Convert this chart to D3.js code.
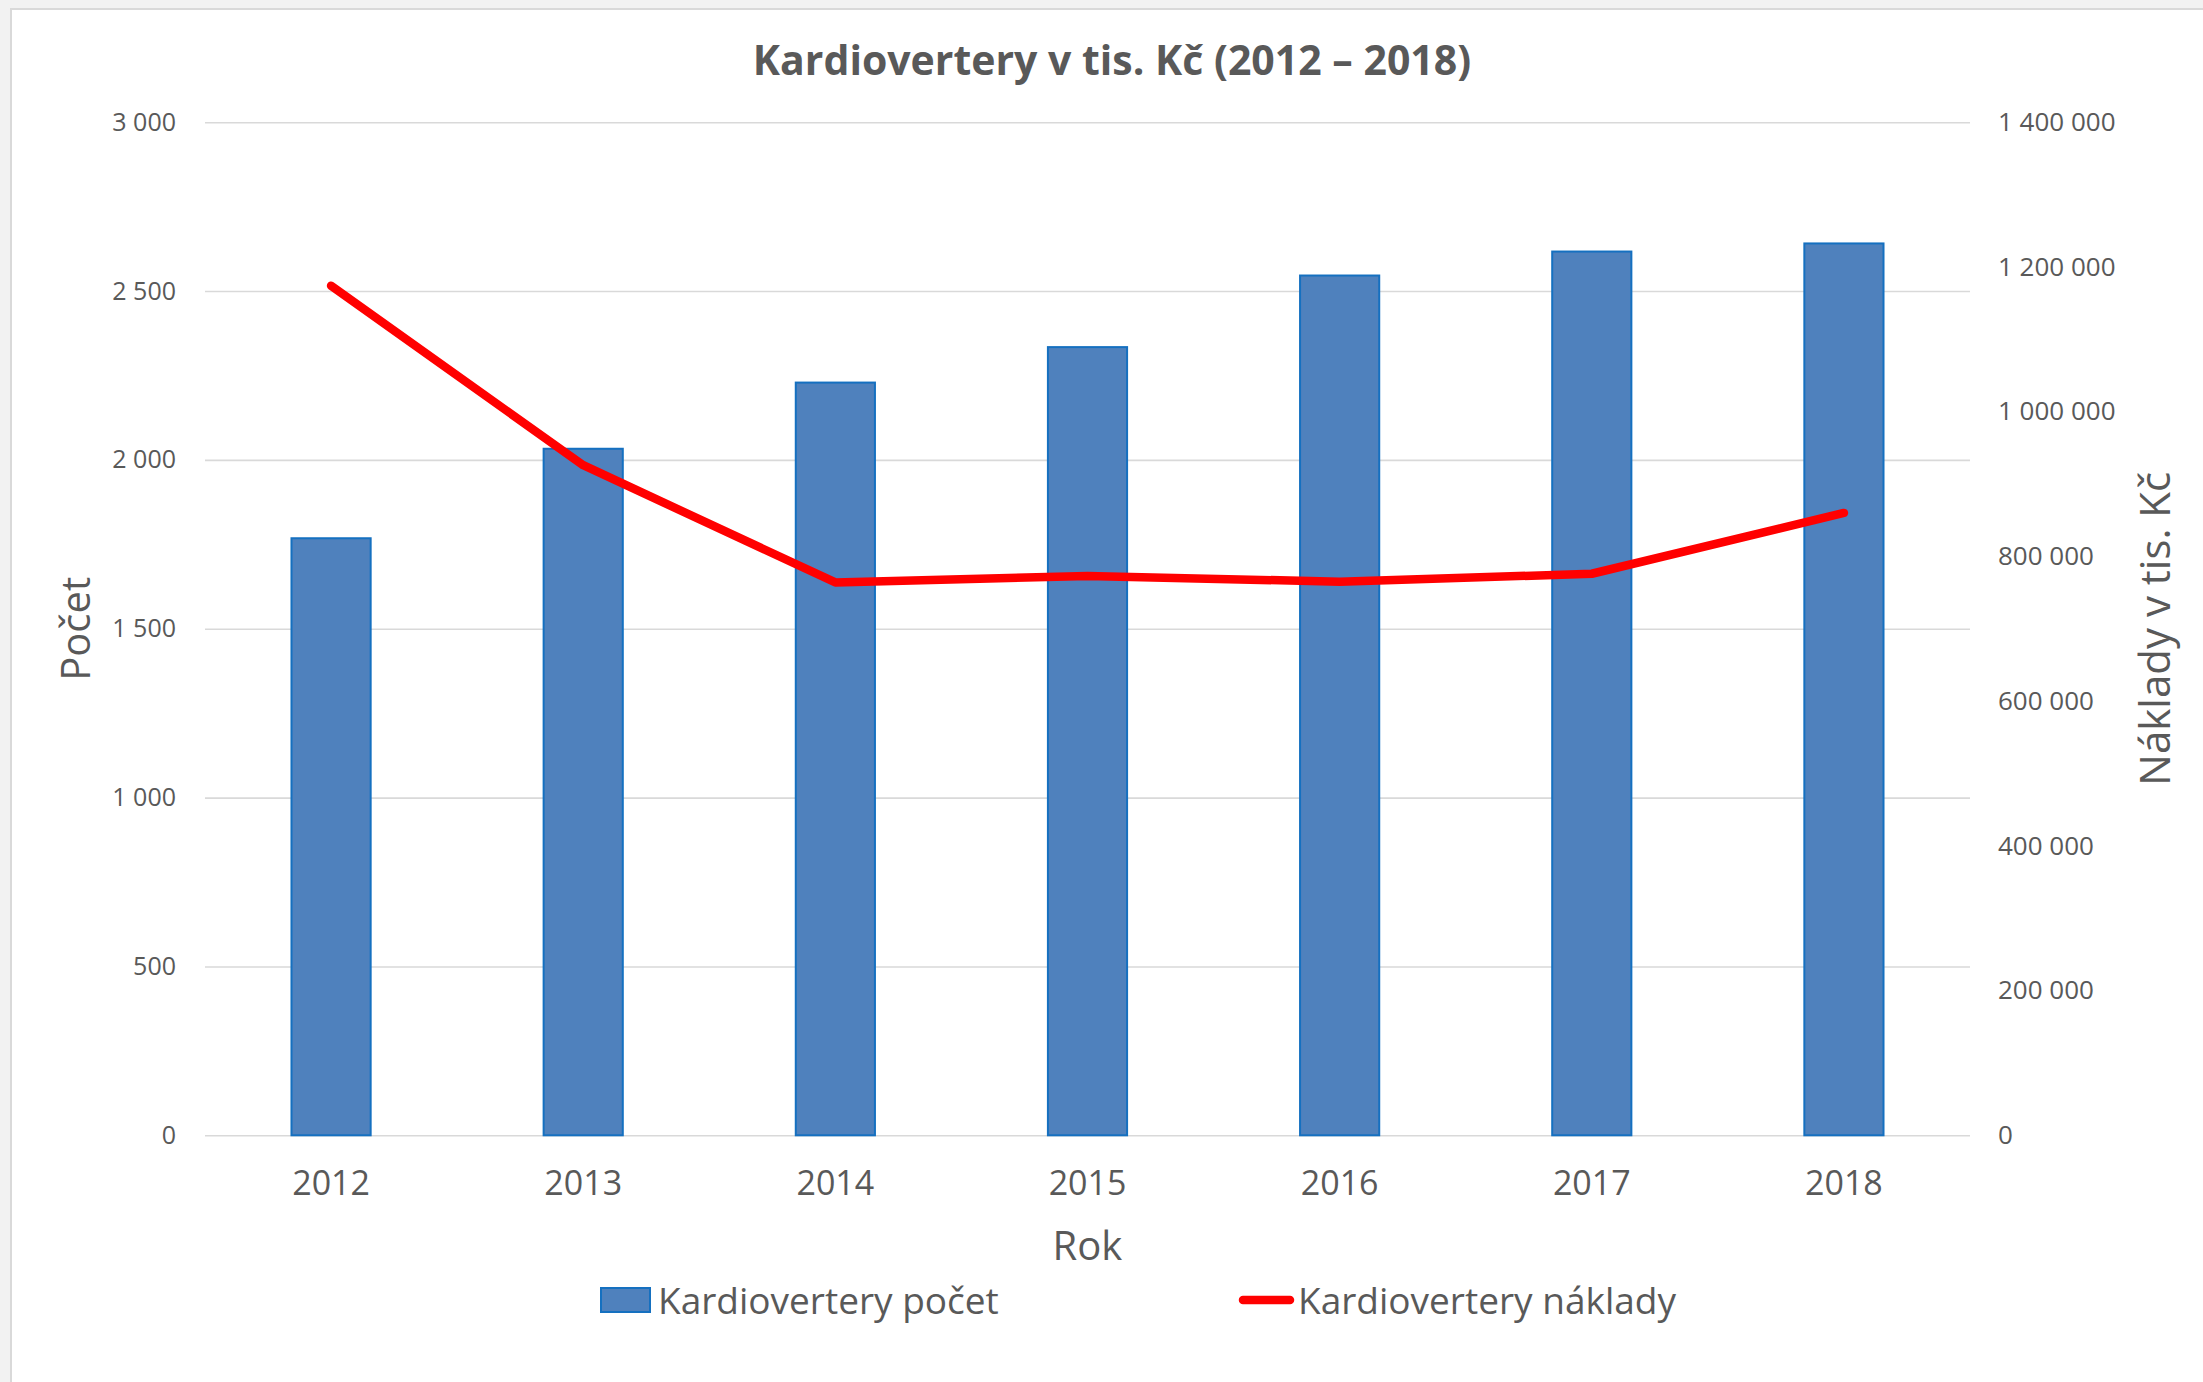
<!DOCTYPE html>
<html><head><meta charset="utf-8">
<script src="https://cdn.jsdelivr.net/npm/d3@7"></script>
<style>
html,body{margin:0;padding:0;background:#f2f2f2;}
svg{display:block;}
text{font-family:"Open Sans",sans-serif;fill:#595959;}
</style></head>
<body>
<script>
const years = ["2012","2013","2014","2015","2016","2017","2018"];
const pocet = [1768, 2033, 2229, 2334, 2546, 2617, 2641];
const naklady = [1174000, 926000, 764000, 773000, 765000, 776000, 860000];
const leftTicks = [0, 500, 1000, 1500, 2000, 2500, 3000];
const rightTicks = [0, 200000, 400000, 600000, 800000, 1000000, 1200000, 1400000];
const titleText = "Kardiovertery v tis. Kč (2012 – 2018)";
const leftTitle = "Počet";
const rightTitle = "Náklady v tis. Kč";
const xTitle = "Rok";
const seriesNames = ["Kardiovertery počet", "Kardiovertery náklady"];

const W = 2203, H = 1382;
const plot = {left: 205, right: 1970, top: 122.2, bottom: 1135.3};
const fmt = d3.formatLocale({thousands: " ", grouping: [3], decimal: ",", currency: ["", ""]}).format(",d");

const svg = d3.select("body").append("svg").attr("width", W).attr("height", H);

// chart area
svg.append("rect").attr("x", 11).attr("y", 9).attr("width", W).attr("height", H)
  .attr("fill", "#ffffff").attr("stroke", "#d9d9d9").attr("stroke-width", 2);

const x = d3.scaleBand().domain(years).range([plot.left, plot.right])
  .paddingInner(0.686).paddingOuter(0.343);
const yL = d3.scaleLinear().domain([0, 3000]).range([plot.bottom, plot.top]);
const yR = d3.scaleLinear().domain([0, 1400000]).range([plot.bottom, plot.top]);

// gridlines
const grid = svg.append("g")
  .attr("transform", `translate(${plot.left},0)`)
  .call(d3.axisLeft(yL).tickValues(leftTicks).tickSize(-(plot.right - plot.left)).tickFormat(""));
grid.select(".domain").remove();
grid.selectAll("line").attr("stroke", "#d9d9d9").attr("stroke-width", 1.6);

// left axis labels
const gL = svg.append("g").attr("transform", `translate(176,0)`)
  .call(d3.axisLeft(yL).tickValues(leftTicks).tickSize(0).tickPadding(0).tickFormat(fmt));
gL.select(".domain").remove();
gL.selectAll("text").attr("font-size", 25).attr("font-family", "Open Sans").attr("fill", "#595959");

// right axis labels
const gR = svg.append("g").attr("transform", `translate(1998,0)`)
  .call(d3.axisRight(yR).tickValues(rightTicks).tickSize(0).tickPadding(0).tickFormat(fmt));
gR.select(".domain").remove();
gR.selectAll("text").attr("font-size", 26).attr("font-family", "Open Sans").attr("fill", "#595959");

// x axis labels
const gX = svg.append("g").attr("transform", `translate(0,${plot.bottom})`)
  .call(d3.axisBottom(x).tickSize(0).tickPadding(36));
gX.select(".domain").remove();
gX.selectAll("text").attr("font-size", 34).attr("font-family", "Open Sans").attr("fill", "#595959");

// bars
svg.append("g").selectAll("rect").data(years).join("rect")
  .attr("x", d => x(d))
  .attr("width", x.bandwidth())
  .attr("y", (d, i) => yL(pocet[i]))
  .attr("height", (d, i) => yL(0) - yL(pocet[i]))
  .attr("fill", "#4f81bd")
  .attr("stroke", "#1570c0")
  .attr("stroke-width", 2);

// line
const line = d3.line()
  .x((d, i) => x(years[i]) + x.bandwidth() / 2)
  .y(d => yR(d));
svg.append("path").datum(naklady).attr("d", line)
  .attr("fill", "none").attr("stroke", "#ff0000").attr("stroke-width", 8.5)
  .attr("stroke-linecap", "round").attr("stroke-linejoin", "round");

// title
svg.append("text").attr("x", 1112).attr("y", 59).attr("text-anchor", "middle")
  .attr("dominant-baseline", "central").attr("font-size", 41).attr("font-weight", "bold")
  .text(titleText);

// axis titles
svg.append("text").attr("transform", `translate(74,${(plot.top + plot.bottom) / 2}) rotate(-90)`)
  .attr("text-anchor", "middle").attr("dominant-baseline", "central").attr("font-size", 40)
  .text(leftTitle);
svg.append("text").attr("transform", `translate(2153,${(plot.top + plot.bottom) / 2}) rotate(-90)`)
  .attr("text-anchor", "middle").attr("dominant-baseline", "central").attr("font-size", 42)
  .text(rightTitle);
svg.append("text").attr("x", (plot.left + plot.right) / 2).attr("y", 1244)
  .attr("text-anchor", "middle").attr("dominant-baseline", "central").attr("font-size", 40)
  .text(xTitle);

// legend
const lg = svg.append("g");
lg.append("rect").attr("x", 601).attr("y", 1288).attr("width", 49).attr("height", 24)
  .attr("fill", "#4f81bd").attr("stroke", "#1570c0").attr("stroke-width", 2);
lg.append("text").attr("x", 658).attr("y", 1299).attr("dominant-baseline", "central")
  .attr("font-size", 37).text(seriesNames[0]);
lg.append("line").attr("x1", 1243).attr("x2", 1290).attr("y1", 1300).attr("y2", 1300)
  .attr("stroke", "#ff0000").attr("stroke-width", 8.5).attr("stroke-linecap", "round");
lg.append("text").attr("x", 1298).attr("y", 1299).attr("dominant-baseline", "central")
  .attr("font-size", 37).text(seriesNames[1]);
</script>
</body></html>
